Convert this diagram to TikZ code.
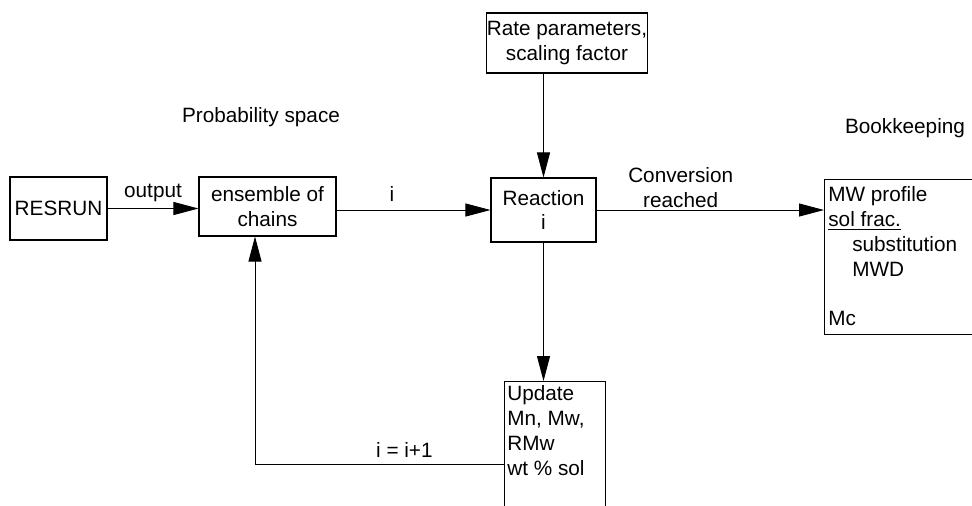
\documentclass[tikz,border=0pt]{standalone}
\usepackage{fontspec}
\setmainfont{Liberation Sans}
\usetikzlibrary{arrows.meta}
\begin{document}
\begin{tikzpicture}[x=0.02cm,y=-0.02cm,
    font=\fontsize{11.8}{14.2}\selectfont,
    box/.style={draw,line width=0.6pt,inner sep=0pt,align=center},
    flow/.style={line width=0.5pt,-{Triangle[length=0.5cm,width=0.26cm]}},
    lbl/.style={inner sep=0pt}]
    \useasboundingbox (0,0) rectangle (972,505);
    % boxes
    \node[box,minimum width=1.94cm,minimum height=1.26cm] (resrun) at (58.5,208.5) {RESRUN};
    \node[box,minimum width=2.74cm,minimum height=1.18cm] (ensemble) at (267.5,206.5) {ensemble of\\chains};
    \node[box,minimum width=2.1cm,minimum height=1.28cm] (reaction) at (543.5,210) {Reaction\\i};
    \node[box,minimum width=3.2cm,minimum height=1.2cm] (rate) at (567,43) {Rate parameters,\\scaling factor};
    \node[box,anchor=north west,minimum width=3.52cm,minimum height=3.1cm] (book) at (824,179) {};
    \node[box,anchor=north west,minimum width=2.02cm,minimum height=3cm] (update) at (504,381) {};
    % box texts
    \node[lbl,anchor=north west,align=left] (booktext) at (828,186)
        {MW profile\\\underline{sol frac.}\\\hspace*{13.6pt}substitution\\\hspace*{13.6pt}MWD\\[14pt]Mc};
    \node[lbl,anchor=north west,align=left] (updatetext) at (507,385)
        {Update\\Mn, Mw,\\RMw\\wt \% sol};
    % headings
    \node (probspace) at (261,117) {Probability space};
    \node (bookhead) at (905,128) {Bookkeeping};
    % connectors
    \draw[flow] (resrun.east) -- node[above=0pt] {output} (resrun.east -| ensemble.west);
    \draw[flow] (ensemble.east |- reaction.west) -- node[pos=0.36,above=1pt] {i} (reaction.west);
    \draw[flow] (reaction.east) -- node[pos=0.37,above=-2.5pt,align=center] {Conversion\\reached} (reaction.east -| book.west);
    \draw[flow] (reaction.north |- rate.south) -- (reaction.north);
    \draw[flow] (reaction.south) -- (reaction.south |- update.north);
    \coordinate (loop) at (255,464);
    \draw[flow] (update.west |- loop) -- node[pos=0.4,above=0pt] {i = i+1} (loop) -- (ensemble.south -| loop);
\end{tikzpicture}
\end{document}
